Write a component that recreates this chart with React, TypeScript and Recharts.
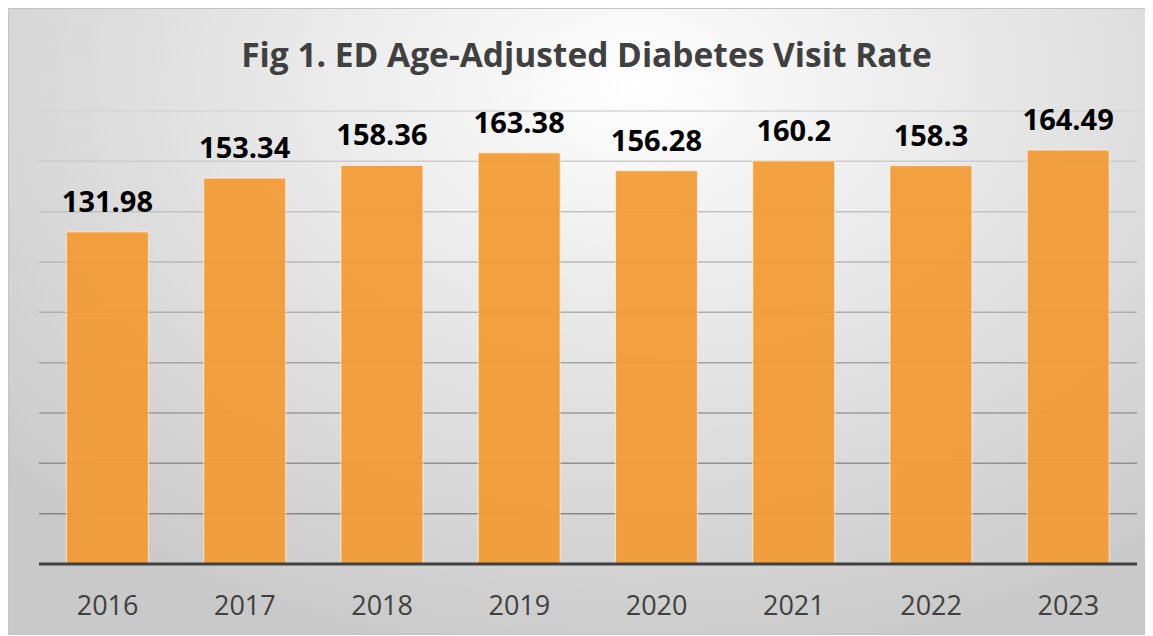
import { BarChart, Bar, XAxis, YAxis, CartesianGrid, LabelList } from "recharts";

const years = ["2016", "2017", "2018", "2019", "2020", "2021", "2022", "2023"];
const rates = [131.98, 153.34, 158.36, 163.38, 156.28, 160.2, 158.3, 164.49];
const yTicks = [0, 20, 40, 60, 80, 100, 120, 140, 160, 180];

const data = years.map((year, i) => ({ year, rate: rates[i] }));

const FONT = "'Open Sans', sans-serif";

export default function App() {
  return (
    <div
      style={{
        position: "relative",
        width: 1139,
        height: 625,
        border: "1px solid #c4c4c4",
        background:
          "radial-gradient(ellipse 75% 95% at 55% 12%, #ffffff 0%, #f1f1f1 25%, #dedede 60%, #c9c9c9 100%)",
        fontFamily: FONT,
      }}
    >
      <div
        style={{
          position: "absolute",
          left: 0,
          width: 1155,
          top: 25,
          textAlign: "center",
          fontSize: 33.5,
          fontWeight: 700,
          color: "#404040",
          lineHeight: "40px",
        }}
      >
        Fig 1. ED Age-Adjusted Diabetes Visit Rate
      </div>
      <BarChart
        width={1139}
        height={625}
        data={data}
        margin={{ top: 102, right: 11, left: 30, bottom: 10 }}
        barCategoryGap="20%"
        style={{ position: "absolute", left: 0, top: 0 }}
      >
        <defs>
          <linearGradient id="gridFade" gradientUnits="userSpaceOnUse" x1="0" y1="102" x2="0" y2="505">
            <stop offset="0%" stopColor="#d6d6d6" />
            <stop offset="100%" stopColor="#868686" />
          </linearGradient>
        </defs>
        <CartesianGrid vertical={false} stroke="url(#gridFade)" strokeWidth={1.5} />
        <YAxis hide domain={[0, 180]} ticks={yTicks} />
        <XAxis
          dataKey="year"
          axisLine={{ stroke: "#404040", strokeWidth: 3 }}
          tickLine={false}
          tickSize={0}
          tickMargin={32}
          height={60}
          tick={{ fill: "#404040", fontSize: 27, fontFamily: FONT }}
        />
        <Bar
          dataKey="rate"
          fill="#F39A33"
          fillOpacity={0.93}
          stroke="#ffffff"
          strokeOpacity={0.55}
          strokeWidth={1.2}
          isAnimationActive={false}
        >
          <LabelList
            dataKey="rate"
            position="top"
            offset={20}
            style={{ fill: "#000000", fontSize: 29, fontWeight: 700, fontFamily: FONT }}
          />
        </Bar>
      </BarChart>
    </div>
  );
}
